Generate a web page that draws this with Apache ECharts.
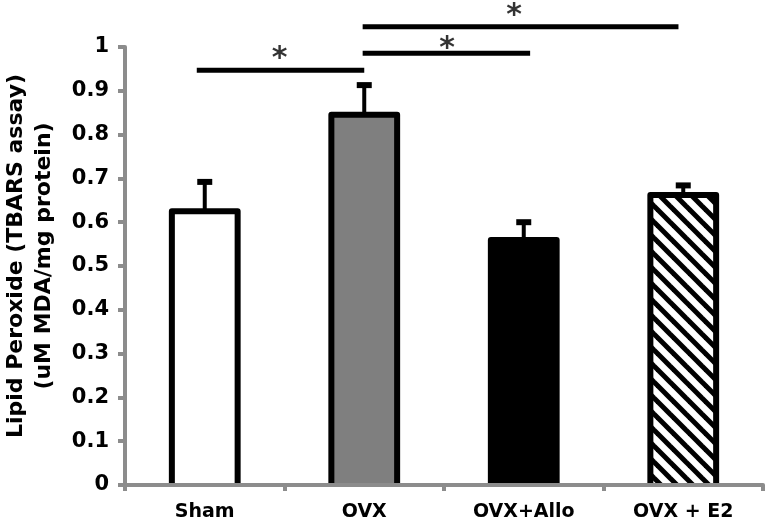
<!DOCTYPE html>
<html>
<head>
<meta charset="utf-8">
<script src="https://cdn.jsdelivr.net/npm/echarts@6/dist/echarts.min.js"></script>
<style>
html,body{margin:0;padding:0;background:#fff;}
#chart{width:768px;height:524px;}
</style>
</head>
<body>
<div id="chart"></div>
<script>
// ---- data ----
const categories = ['Sham', 'OVX', 'OVX+Allo', 'OVX + E2'];
const means = [0.632, 0.852, 0.566, 0.669];
const errors = [0.060, 0.061, 0.034, 0.015];
const yTickValues = [0, 0.1, 0.2, 0.3, 0.4, 0.5, 0.6, 0.7, 0.8, 0.9, 1];
const yTitleLines = ['Lipid Peroxide (TBARS assay)', '(uM MDA/mg protein)'];
// significance brackets (x in category units: 0..4 across the axis)
const sigFrom = [0.45, 1.49, 1.49];
const sigTo = [1.50, 2.54, 3.47];
const sigY = [0.947, 0.986, 1.046];
const starX = [0.97, 2.02, 2.44];
const starY = [0.989, 1.011, 1.087];
const starText = ['*', '*', '*'];

// ---- styles ----
const FONT = 'DejaVu Sans';
const AXIS_GREY = '#8c8c8c';

function hatchPattern() {
  const p = 16;
  const c = document.createElement('canvas');
  c.width = p; c.height = p;
  const ctx = c.getContext('2d');
  ctx.fillStyle = '#ffffff';
  ctx.fillRect(0, 0, p, p);
  ctx.strokeStyle = '#000000';
  ctx.lineWidth = 5;
  for (let k = -1; k <= 1; k++) {
    ctx.beginPath();
    ctx.moveTo(k * p - 2, -2);
    ctx.lineTo(k * p + p + 2, p + 2);
    ctx.stroke();
  }
  return { image: c, repeat: 'repeat' };
}

const fills = ['#ffffff', '#7f7f7f', '#000000', hatchPattern()];

const chart = echarts.init(document.getElementById('chart'), null, { renderer: 'canvas' });

const barData = means.map((v, i) => [i, v]);
const errData = means.map((v, i) => [i, v, v + errors[i]]);

const bracketSeries = sigFrom.map((f, i) => ({
  type: 'line',
  xAxisIndex: 1,
  yAxisIndex: 0,
  data: [[f, sigY[i]], [sigTo[i], sigY[i]]],
  symbol: 'none',
  clip: false,
  silent: true,
  z: 10,
  lineStyle: { color: '#000', width: 5, cap: 'butt' }
}));

const BORDER = 6;

const option = {
  backgroundColor: '#ffffff',
  animation: false,
  grid: { left: 125, right: 5, top: 47, bottom: 39, containLabel: false },
  xAxis: [
    {
      type: 'category',
      data: categories,
      z: 5,
      axisLine: { lineStyle: { color: AXIS_GREY, width: 4 } },
      axisTick: { show: true, length: 6, lineStyle: { color: AXIS_GREY, width: 4 } },
      axisLabel: { color: '#000', fontFamily: FONT, fontWeight: 'bold', fontSize: 19, margin: 18 },
      splitLine: { show: false }
    },
    { type: 'value', min: 0, max: 4, show: false }
  ],
  yAxis: {
    type: 'value',
    min: 0, max: 1, interval: 0.1,
    z: 5,
    axisLine: { show: true, lineStyle: { color: AXIS_GREY, width: 4 } },
    axisTick: { show: true, length: 7, lineStyle: { color: AXIS_GREY, width: 4 } },
    axisLabel: {
      color: '#000', fontFamily: FONT, fontWeight: 'bold', fontSize: 21, margin: 16,
      formatter: v => {
        const t = yTickValues.find(x => Math.abs(x - v) < 1e-6);
        return t === undefined ? '' : String(t);
      }
    },
    splitLine: { show: false }
  },
  graphic: [{
    type: 'text',
    x: 30, y: 256,
    rotation: Math.PI / 2,
    style: {
      text: yTitleLines.join('\n'),
      font: 'bold 22px "' + FONT + '"',
      fill: '#000',
      align: 'center',
      verticalAlign: 'middle',
      lineHeight: 28
    }
  }],
  series: [
    {
      type: 'custom',
      z: 2,
      data: barData,
      renderItem: (params, api) => {
        const i = api.value(0);
        const top = api.coord([i, api.value(1)]);
        const base = api.coord([i, 0]);
        const outer = api.size([1, 0])[0] * 0.45;
        const hw = outer / 2 - BORDER / 2;
        const ty = top[1] + BORDER / 2;
        return {
          type: 'group',
          children: [
            { type: 'rect', shape: { x: top[0] - hw, y: ty, width: hw * 2, height: base[1] - ty }, style: { fill: fills[params.dataIndex] } },
            {
              type: 'polyline',
              shape: { points: [[top[0] - hw, base[1]], [top[0] - hw, ty], [top[0] + hw, ty], [top[0] + hw, base[1]]] },
              style: { stroke: '#000', lineWidth: BORDER, fill: null, lineJoin: 'round' }
            }
          ]
        };
      }
    },
    {
      type: 'custom',
      z: 4,
      data: errData,
      renderItem: (params, api) => {
        const base = api.coord([api.value(0), api.value(1)]);
        const top = api.coord([api.value(0), api.value(2)]);
        const capW = 15, capH = 6, stemW = 4;
        return {
          type: 'group',
          children: [
            { type: 'rect', shape: { x: base[0] - stemW / 2, y: top[1], width: stemW, height: base[1] - top[1] + 1 }, style: { fill: '#000' } },
            { type: 'rect', shape: { x: base[0] - capW / 2, y: top[1] - capH / 2, width: capW, height: capH }, style: { fill: '#000' } }
          ]
        };
      }
    },
    ...bracketSeries,
    {
      type: 'scatter',
      xAxisIndex: 1,
      data: starX.map((x, i) => [x, starY[i]]),
      symbolSize: 1,
      clip: false,
      z: 10,
      itemStyle: { color: 'rgba(0,0,0,0)' },
      label: {
        show: true,
        position: 'inside',
        formatter: p => starText[p.dataIndex],
        color: '#000',
        fontFamily: FONT,
        fontWeight: 'bold',
        fontSize: 30,
        offset: [0, 7]
      }
    }
  ]
};
chart.setOption(option);
</script>
</body>
</html>
